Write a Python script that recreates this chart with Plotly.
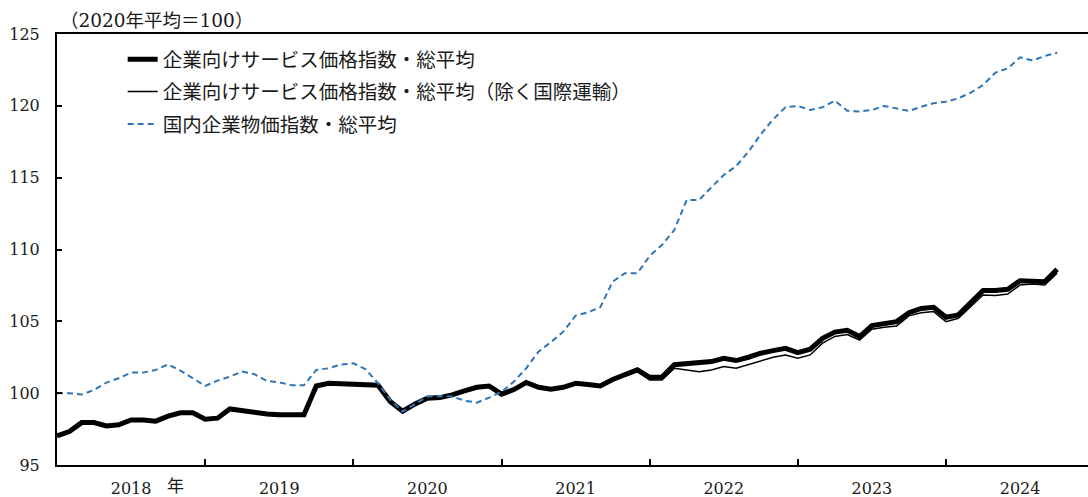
import numpy as np
import pandas as pd
import plotly.graph_objects as go

# Monthly data, 2018-01 .. 2024-10 (2020 average = 100)
months = pd.period_range("2018-01", "2024-10", freq="M").strftime("%Y-%m").tolist()

sppi_total = [
    97.03, 97.33, 97.95, 97.95, 97.72, 97.80, 98.14, 98.14, 98.05, 98.40, 98.63, 98.63,
    98.19, 98.26, 98.90, 98.77, 98.65, 98.55, 98.50, 98.52, 98.50, 100.50, 100.69, 100.66,
    100.62, 100.55, 100.55, 99.40, 98.75, 99.25, 99.64, 99.69, 99.88, 100.16, 100.41, 100.50,
    99.93, 100.25, 100.74, 100.41, 100.28, 100.41, 100.69, 100.60, 100.50, 100.95, 101.30, 101.62,
    101.10, 101.12, 101.98, 102.08, 102.10, 102.20, 102.43, 102.27, 102.50, 102.78, 102.96, 103.12,
    102.82, 103.06, 103.82, 104.25, 104.38, 103.94, 104.70, 104.85, 104.98, 105.60, 105.90, 105.98,
    105.28, 105.45, 106.25, 107.14, 107.14, 107.23, 107.83, 107.83, 107.76, 108.62,
]

sppi_ex_intl = [
    97.03, 97.33, 97.95, 97.95, 97.72, 97.80, 98.14, 98.14, 98.05, 98.40, 98.63, 98.63,
    98.19, 98.26, 98.90, 98.77, 98.65, 98.55, 98.50, 98.52, 98.50, 100.50, 100.69, 100.66,
    100.62, 100.55, 100.55, 99.40, 98.75, 99.25, 99.64, 99.69, 99.88, 100.16, 100.41, 100.50,
    99.93, 100.25, 100.74, 100.38, 100.24, 100.36, 100.63, 100.53, 100.42, 100.88, 101.20, 101.50,
    100.92, 100.92, 101.73, 101.62, 101.50, 101.62, 101.85, 101.73, 101.97, 102.25, 102.50, 102.66,
    102.43, 102.66, 103.48, 103.95, 104.08, 103.70, 104.45, 104.59, 104.68, 105.38, 105.60, 105.68,
    104.98, 105.21, 106.02, 106.84, 106.80, 106.90, 107.53, 107.60, 107.53, 108.35,
]

cgpi_total = [
    100.00, 100.00, 99.90, 100.23, 100.74, 101.04, 101.43, 101.43, 101.62, 102.00, 101.57, 101.04,
    100.50, 100.87, 101.15, 101.50, 101.32, 100.85, 100.76, 100.55, 100.55, 101.62, 101.73, 101.99,
    102.08, 101.66, 100.69, 99.53, 98.72, 99.25, 99.76, 99.80, 99.76, 99.48, 99.34, 99.69,
    100.10, 100.80, 101.73, 102.89, 103.55, 104.28, 105.39, 105.63, 105.98, 107.76, 108.35, 108.35,
    109.55, 110.32, 111.36, 113.45, 113.45, 114.33, 115.19, 115.80, 116.81, 118.02, 119.06, 119.90,
    119.99, 119.71, 119.90, 120.36, 119.66, 119.60, 119.71, 119.99, 119.83, 119.64, 119.94, 120.18,
    120.29, 120.52, 120.92, 121.45, 122.31, 122.61, 123.38, 123.15, 123.47, 123.70,
]

years = ["2018", "2019", "2020", "2021", "2022", "2023", "2024"]
y_ticks = [95, 100, 105, 110, 115, 120, 125]

names = [
    "企業向けサービス価格指数・総平均",
    "企業向けサービス価格指数・総平均（除く国際運輸）",
    "国内企業物価指数・総平均",
]

x = np.arange(len(months))

fig = go.Figure()
fig.add_trace(go.Scatter(x=x, y=sppi_total, mode="lines", name=names[0], legendgroup="a",
                         text=months, line=dict(color="#000000", width=5)))
fig.add_trace(go.Scatter(x=x, y=sppi_ex_intl, mode="lines", name=names[1], legendgroup="b",
                         text=months, line=dict(color="#000000", width=1.5)))
fig.add_trace(go.Scatter(x=x, y=cgpi_total, mode="lines", name=names[2], legendgroup="c",
                         text=months, line=dict(color="#2E75B6", width=2, dash="6px,4px")))

serif = "'DejaVu Serif', 'Liberation Serif', serif"
cjk = "'DejaVu Serif', 'Noto Sans CJK JP', sans-serif"

year_centers = [12 * k + 6 for k in range(len(years))]

fig.update_layout(
    width=1088, height=497,
    margin=dict(l=57, r=0, t=34, b=32, autoexpand=False),
    paper_bgcolor="white", plot_bgcolor="white",
    showlegend=True,
    legend=dict(x=0.0637, y=0.986, xanchor="left", yanchor="top",
                font=dict(family=cjk, size=19.5, color="#1a1a1a"),
                bgcolor="rgba(0,0,0,0)", tracegroupgap=4),
    xaxis=dict(
        range=[0, 83.5], showgrid=False, zeroline=False, automargin=False,
        showline=True, linecolor="black", linewidth=2, mirror=True,
        tickmode="array", tickvals=year_centers, ticktext=years, ticks="",
        ticklabelstandoff=8,
        tickfont=dict(family=serif, size=16, color="#1a1a1a"),
        minor=dict(tickmode="array", tickvals=[12 * k for k in range(1, 7)],
                   ticks="inside", ticklen=6, tickwidth=2, tickcolor="black", showgrid=False),
    ),
    yaxis=dict(
        range=[95, 125], showgrid=False, zeroline=False, automargin=False,
        showline=True, linecolor="black", linewidth=2,
        tickmode="array", tickvals=y_ticks, ticks="inside", ticklen=5, tickwidth=2,
        tickcolor="black", ticklabelstandoff=12,
        tickfont=dict(family=serif, size=16, color="#1a1a1a"),
    ),
    annotations=[
        dict(text="（2020年平均＝100）", xref="paper", yref="paper", x=0.0, y=1.0,
             xanchor="left", yanchor="bottom", xshift=1, yshift=1, showarrow=False,
             font=dict(family=cjk, size=18.5, color="#1a1a1a")),
        dict(text="年", xref="x", yref="paper", x=9.6, y=0, yanchor="top",
             xanchor="center", yshift=-9, showarrow=False,
             font=dict(family=cjk, size=17, color="#1a1a1a")),
    ],
)

fig.write_html("out.html", config={"displayModeBar": False},
               post_script="document.body.style.margin='0px';")
